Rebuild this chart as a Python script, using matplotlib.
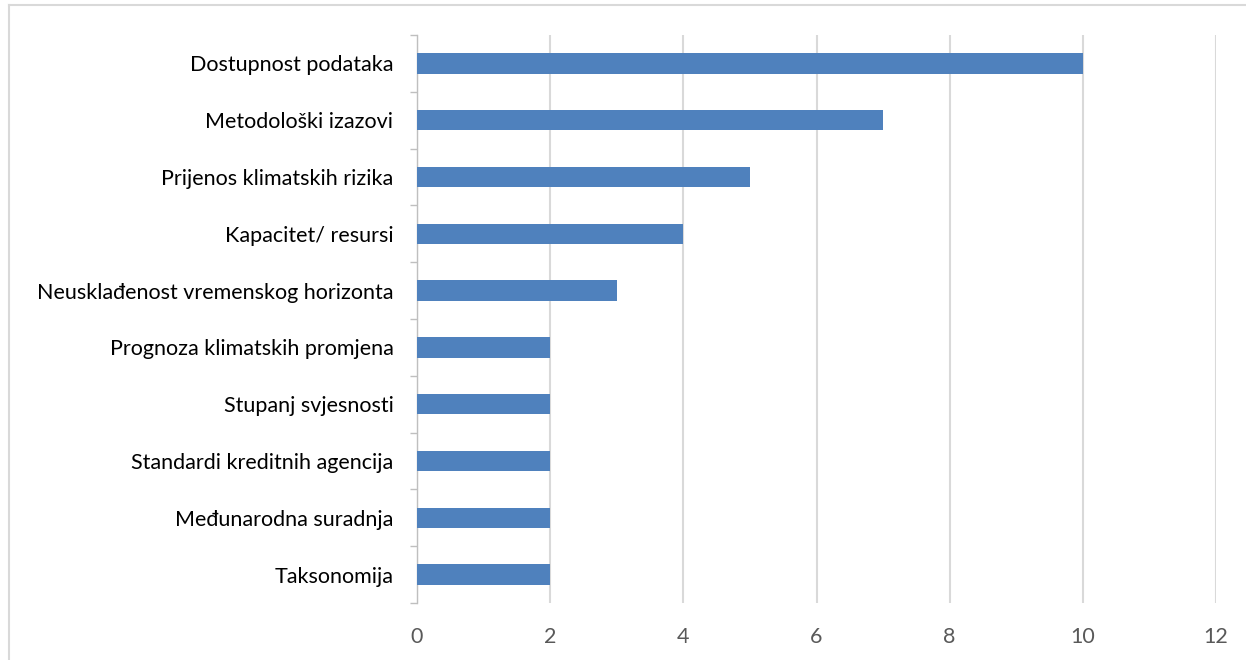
import matplotlib.pyplot as plt
from matplotlib.lines import Line2D
from matplotlib.ticker import FixedLocator

categories = [
    "Dostupnost podataka",
    "Metodološki izazovi",
    "Prijenos klimatskih rizika",
    "Kapacitet/ resursi",
    "Neusklađenost vremenskog horizonta",
    "Prognoza klimatskih promjena",
    "Stupanj svjesnosti",
    "Standardi kreditnih agencija",
    "Međunarodna suradnja",
    "Taksonomija",
]
values = [10, 7, 5, 4, 3, 2, 2, 2, 2, 2]
x_ticks = [0, 2, 4, 6, 8, 10, 12]

plt.rcParams['font.family'] = ['Lato', 'DejaVu Sans']

fig = plt.figure(figsize=(12.46, 6.6), dpi=100)
ax = fig.add_axes([417 / 1246, 1 - 603 / 660, 799 / 1246, 568 / 660])

pos = list(range(len(categories)))
ax.barh(pos, values, height=0.36, color='#4F81BD', zorder=3)

ax.set_ylim(len(categories) - 0.5, -0.5)
ax.set_xlim(0, 12)
ax.set_xticks(x_ticks)
ax.set_yticks(pos)
ax.set_yticklabels(categories, fontsize=15.5, color='#000000')
ax.yaxis.set_minor_locator(FixedLocator([p - 0.5 for p in pos] + [len(pos) - 0.5]))
ax.tick_params(axis='y', which='major', length=0, pad=17)
ax.tick_params(axis='y', which='minor', length=5, width=1, color='#BFBFBF')
ax.tick_params(axis='x', length=0, pad=17, labelsize=15.5, labelcolor='#595959')

ax.grid(axis='x', color='#D9D9D9', linewidth=1.5, zorder=0)
for s in ['top', 'right', 'bottom']:
    ax.spines[s].set_visible(False)
ax.spines['left'].set_color('#BFBFBF')
ax.spines['left'].set_linewidth(1)

# light border round the chart area (left and top only are in view)
for xs, ys in [([8.5, 8.5], [0, 655]), ([8.5, 1246], [655, 655])]:
    fig.add_artist(Line2D([x / 1246 for x in xs], [y / 660 for y in ys],
                          color='#D9D9D9', linewidth=1.5))

fig.savefig('out.png', dpi=100)
